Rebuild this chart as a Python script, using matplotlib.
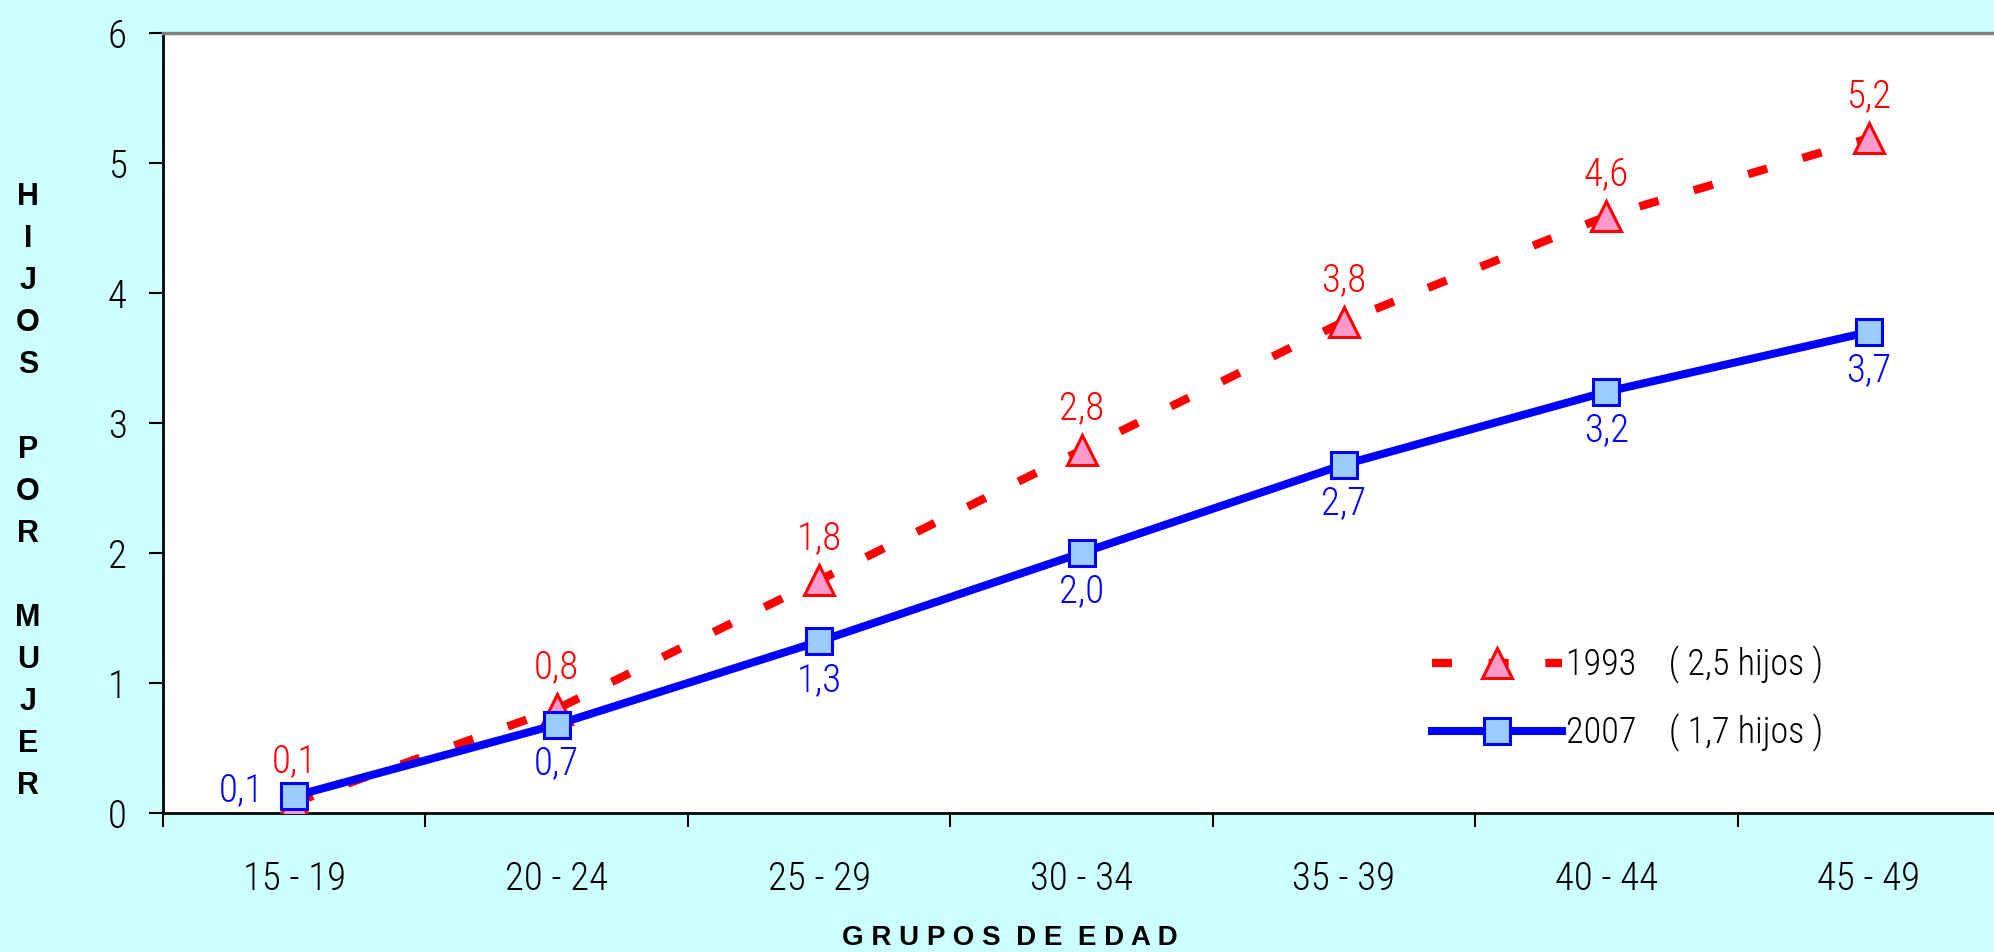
import numpy as np
import matplotlib.pyplot as plt

#%% data
grupos = ["15 - 19", "20 - 24", "25 - 29", "30 - 34", "35 - 39", "40 - 44", "45 - 49"]
hijos_1993 = [0.08, 0.8, 1.79, 2.79, 3.78, 4.59, 5.19]
hijos_2007 = [0.13, 0.68, 1.32, 2.0, 2.68, 3.24, 3.7]
etiq_1993 = ["0,1", "0,8", "1,8", "2,8", "3,8", "4,6", "5,2"]
etiq_2007 = ["0,1", "0,7", "1,3", "2,0", "2,7", "3,2", "3,7"]
leyenda = ["1993    ( 2,5 hijos )", "2007    ( 1,7 hijos )"]
y_label = "HIJOS POR MUJER"
x_label = "G R U P O S  D E  E D A D"

NARROW = ["Roboto Condensed", "DejaVu Sans"]
BOLD = ["Liberation Sans", "DejaVu Sans"]
RED = "#FF0000"
BLUE = "#0000FF"

#%% figure
W, H = 1994, 952
fig = plt.figure(figsize=(W / 100, H / 100), dpi=100, facecolor="#CCFFFF")
ax = fig.add_axes([163 / W, 1 - 813 / H, (2000 - 163) / W, 780 / H])
ax.set_facecolor("white")

x = np.arange(len(grupos))

l93, = ax.plot(x, hijos_1993, color=RED, lw=6, dashes=(2.4, 4.4),
               marker="^", markersize=21, markerfacecolor="#FF99CC",
               markeredgecolor=RED, markeredgewidth=2.2, zorder=3)
l07, = ax.plot(x, hijos_2007, color=BLUE, lw=5.8,
               marker="s", markersize=19, markerfacecolor="#99CCFF",
               markeredgecolor=BLUE, markeredgewidth=2.2, zorder=4)

# data labels
for i, (v, t) in enumerate(zip(hijos_1993, etiq_1993)):
    ax.annotate(t, (x[i], v), xytext=(0, 30), textcoords="offset points",
                ha="center", va="center", color=RED, fontsize=28,
                family=NARROW, weight="light", zorder=5)
for i, (v, t) in enumerate(zip(hijos_2007, etiq_2007)):
    if i == 0:
        ax.annotate(t, (x[i], v), xytext=(-38, 4), textcoords="offset points",
                    ha="center", va="center", color=BLUE, fontsize=28,
                    family=NARROW, weight="light", zorder=5)
    else:
        ax.annotate(t, (x[i], v), xytext=(0, -28), textcoords="offset points",
                    ha="center", va="center", color=BLUE, fontsize=28,
                    family=NARROW, weight="light", zorder=5)

# axes
ax.set_xlim(-0.5, len(grupos) - 0.5)
ax.set_ylim(0, 6)
ax.set_yticks(range(7))
ax.set_yticklabels([str(v) for v in range(7)], family=NARROW, weight="light", fontsize=28)
ax.tick_params(axis="y", direction="out", length=10, width=1.5, pad=16)

ax.set_xticks(np.arange(-0.5, len(grupos)))
ax.set_xticklabels([])
ax.set_xticks(x, minor=True)
ax.set_xticklabels(grupos, minor=True, family=NARROW, weight="light", fontsize=28)
ax.tick_params(axis="x", which="major", direction="out", length=10, width=1.5)
ax.tick_params(axis="x", which="minor", length=0, pad=34)

for s in ["left", "bottom"]:
    ax.spines[s].set_linewidth(2)
    ax.spines[s].set_color("black")
ax.spines["top"].set_linewidth(2.5)
ax.spines["top"].set_color("#808080")
ax.spines["right"].set_visible(False)

# legend
ax.legend([l93, l07], leyenda, loc="upper left", bbox_to_anchor=(0.691, 0.214),
          frameon=False, prop={"family": NARROW, "weight": "light", "size": 26},
          handlelength=3.6, handletextpad=0.1, borderpad=0, borderaxespad=0,
          labelspacing=0.82)

# y label, one letter per row
y0 = 197
for k, ch in enumerate(y_label):
    if ch != " ":
        fig.text(28 / W, 1 - (y0 + k * 42.1) / H, ch, ha="center", va="center",
                 fontsize=22, fontweight="bold", family=BOLD)

# x label
fig.text(1010 / W, 1 - 938 / H, x_label, ha="center", va="center",
         fontsize=20, fontweight="bold", family=BOLD)

fig.savefig("out.png", dpi=100, facecolor=fig.get_facecolor())
